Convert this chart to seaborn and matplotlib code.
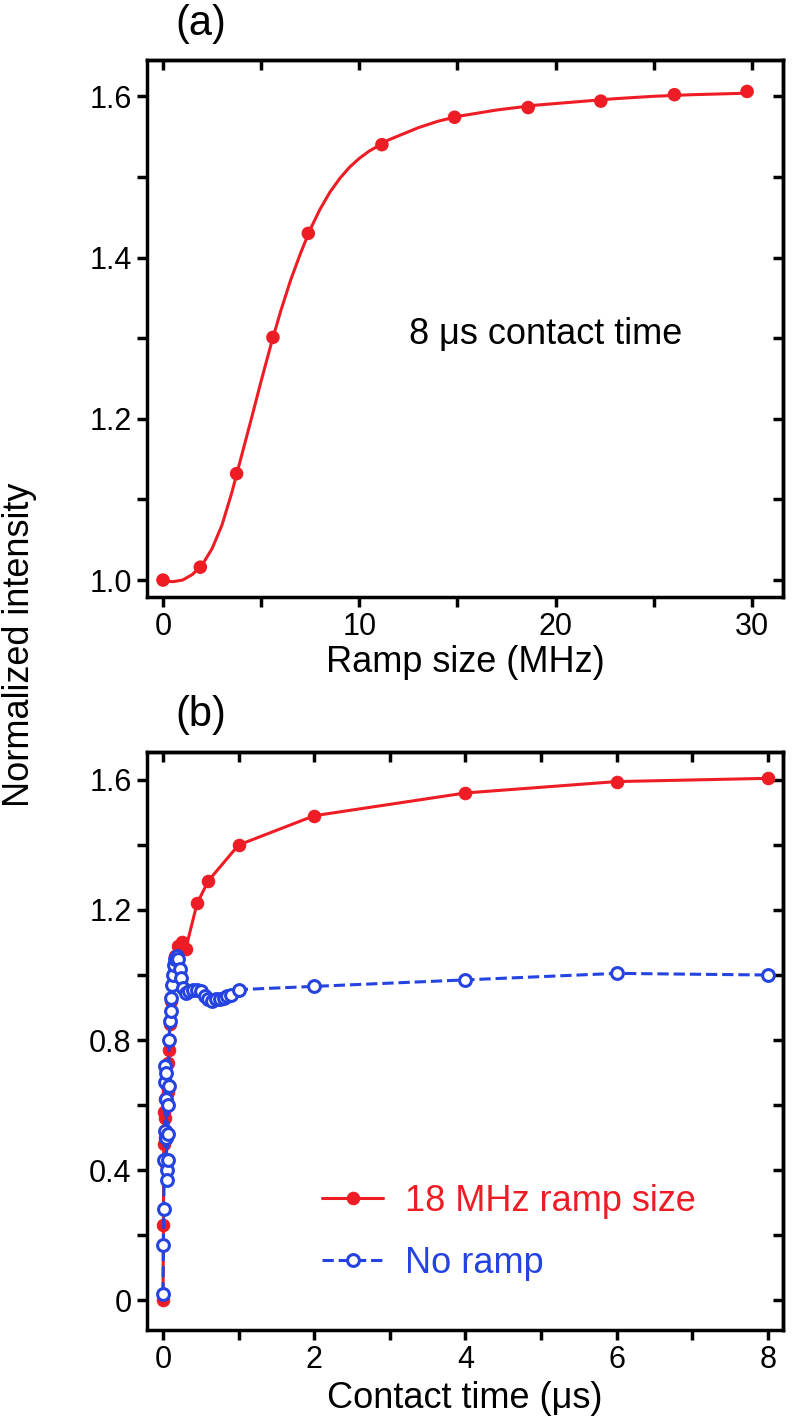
import seaborn as sns
from matplotlib import pyplot as plt
import matplotlib.ticker as ticker

sns.set_theme(style='ticks')
plt.rcParams['font.family'] = ['Liberation Sans', 'DejaVu Sans']
plt.rcParams['text.color'] = 'black'
plt.rcParams['axes.labelcolor'] = 'black'
plt.rcParams['xtick.color'] = 'black'
plt.rcParams['ytick.color'] = 'black'

RED = '#ee1c25'
BLUE = '#2443e0'

# (a) ramp size scan at 8 us contact time
ramp_mhz = [0, 1.9, 3.75, 5.6, 7.4, 11.15, 14.85, 18.6, 22.3, 26.05, 29.75]
ramp_int = [1.0, 1.016, 1.132, 1.301, 1.430, 1.540, 1.574, 1.586, 1.594, 1.602, 1.606]

# fitted curve
fit_mhz = [0, 0.5, 1.0, 1.5, 2.0, 2.5, 3.0, 3.5, 4.0, 4.5, 5.0, 5.5, 6.0, 6.5, 7.0, 7.5,
           8.0, 8.5, 9.0, 9.5, 10, 10.5, 11, 11.5, 12, 13, 14, 15, 16, 17, 18, 19, 21,
           23, 25, 27, 30]
fit_int = [0.999, 0.998, 1.000, 1.007, 1.019, 1.039, 1.068, 1.108, 1.154, 1.200, 1.247,
           1.292, 1.334, 1.372, 1.405, 1.435, 1.460, 1.481, 1.498, 1.512, 1.523, 1.532,
           1.539, 1.546, 1.551, 1.561, 1.569, 1.575, 1.579, 1.583, 1.586, 1.589, 1.593,
           1.597, 1.600, 1.602, 1.604]

# (b) contact time build-up
t_ramp = [0.0, 0.005, 0.01, 0.015, 0.02, 0.025, 0.03, 0.035, 0.04, 0.045, 0.05, 0.06,
          0.07, 0.08, 0.09, 0.10, 0.12, 0.14, 0.16, 0.20, 0.25, 0.30, 0.45, 0.60, 1.0,
          2.0, 4.0, 6.0, 8.0]
i_ramp = [0.0, 0.23, 0.48, 0.58, 0.62, 0.56, 0.50, 0.42, 0.52, 0.62, 0.66, 0.64,
          0.73, 0.77, 0.85, 0.92, 0.97, 1.01, 1.06, 1.09, 1.10, 1.08, 1.22, 1.29, 1.40,
          1.49, 1.56, 1.595, 1.605]

t_noramp = [0.0, 0.005, 0.01, 0.015, 0.02, 0.025, 0.03, 0.035, 0.04, 0.045, 0.05, 0.055,
            0.06, 0.065, 0.07, 0.075, 0.08, 0.09, 0.10, 0.11, 0.12, 0.13, 0.14, 0.16,
            0.18, 0.20, 0.22, 0.24, 0.26, 0.30, 0.35, 0.40, 0.45, 0.50, 0.55, 0.60,
            0.65, 0.70, 0.75, 0.80, 0.85, 0.90, 1.0, 2.0, 4.0, 6.0, 8.0]
i_noramp = [0.02, 0.17, 0.28, 0.43, 0.52, 0.67, 0.72, 0.70, 0.62, 0.50, 0.40, 0.37,
            0.43, 0.51, 0.60, 0.66, 0.80, 0.86, 0.89, 0.93, 0.97, 1.00, 1.03, 1.05,
            1.06, 1.05, 1.02, 0.99, 0.96, 0.945, 0.95, 0.955, 0.955, 0.95, 0.935, 0.925,
            0.92, 0.925, 0.925, 0.93, 0.935, 0.94, 0.955, 0.965, 0.985, 1.005, 1.0]

fig = plt.figure(figsize=(8.1, 14.22), dpi=100)
ax1 = fig.add_axes([147 / 810, 1 - 597 / 1422, 636 / 810, 537 / 1422])
ax2 = fig.add_axes([147 / 810, 1 - 1330 / 1422, 636 / 810, 578 / 1422])

TICK_FS = 22
LABEL_FS = 26
LW = 2.5


def style_axes(ax, xmaj, xmin, ymaj, ymin):
    for s in ax.spines.values():
        s.set_linewidth(LW)
        s.set_color('black')
    ax.xaxis.set_major_locator(ticker.MultipleLocator(xmaj))
    ax.xaxis.set_minor_locator(ticker.MultipleLocator(xmin))
    ax.yaxis.set_major_locator(ticker.MultipleLocator(ymaj))
    ax.yaxis.set_minor_locator(ticker.MultipleLocator(ymin))
    ax.tick_params(which='both', direction='out', length=7, width=LW,
                   labelsize=TICK_FS, pad=4, color='black')
    # mirrored ticks pointing inward
    top = ax.secondary_xaxis('top')
    top.xaxis.set_major_locator(ticker.MultipleLocator(xmin))
    top.xaxis.set_minor_locator(ticker.NullLocator())
    top.tick_params(direction='in', length=7, width=LW, labeltop=False)
    top.spines['top'].set_linewidth(LW)
    right = ax.secondary_yaxis('right')
    right.yaxis.set_major_locator(ticker.MultipleLocator(ymin))
    right.yaxis.set_minor_locator(ticker.NullLocator())
    right.tick_params(direction='in', length=7, width=LW, labelright=False)
    right.spines['right'].set_linewidth(LW)


# panel (a)
sns.lineplot(x=fit_mhz, y=fit_int, color=RED, linewidth=2.2, ax=ax1)
sns.scatterplot(x=ramp_mhz, y=ramp_int, color=RED, s=95, edgecolor='none', ax=ax1, zorder=3)
ax1.set_xlim(-0.815, 31.58)
ax1.set_ylim(0.979, 1.645)
style_axes(ax1, 10, 5, 0.2, 0.1)
ax1.yaxis.set_major_formatter(ticker.FormatStrFormatter('%.1f'))
ax1.set_xlabel('Ramp size (MHz)', fontsize=LABEL_FS, labelpad=2)
ax1.set_ylabel('')
ax1.text(19.5, 1.304, '8 \u03bcs contact time', fontsize=LABEL_FS, ha='center', va='center')
ax1.text(0.045, 1.03, '(a)', transform=ax1.transAxes, fontsize=30, va='bottom')

# panel (b)
sns.lineplot(x=t_ramp, y=i_ramp, color=RED, linewidth=2.2, marker='o', markersize=9,
             markeredgecolor=RED, markerfacecolor=RED, label='18 MHz ramp size', ax=ax2)
sns.lineplot(x=t_noramp, y=i_noramp, color=BLUE, linewidth=2.2, linestyle='--',
             marker='o', markersize=8.5, markeredgecolor=BLUE, markerfacecolor='white',
             markeredgewidth=2.2, label='No ramp', ax=ax2)
ax2.set_xlim(-0.212, 8.20)
ax2.set_ylim(-0.092, 1.686)
style_axes(ax2, 2, 1, 0.4, 0.2)
ax2.yaxis.set_major_formatter(ticker.FuncFormatter(lambda v, p: '0' if abs(v) < 1e-9 else '%.1f' % v))
ax2.set_xlabel('Contact time (\u03bcs)', fontsize=LABEL_FS, labelpad=4)
ax2.set_ylabel('')
ax2.text(0.045, 1.03, '(b)', transform=ax2.transAxes, fontsize=30, va='bottom')
ax2.legend(loc='lower left', bbox_to_anchor=(0.275, 0.085), frameon=False,
           fontsize=LABEL_FS, labelcolor='linecolor', handlelength=1.7,
           handletextpad=0.6, labelspacing=0.75, borderpad=0, borderaxespad=0)

fig.text(0.024, 1 - 645 / 1422, 'Normalized intensity', rotation=90, fontsize=LABEL_FS,
         ha='center', va='center')

plt.savefig('out.png', dpi=100)
